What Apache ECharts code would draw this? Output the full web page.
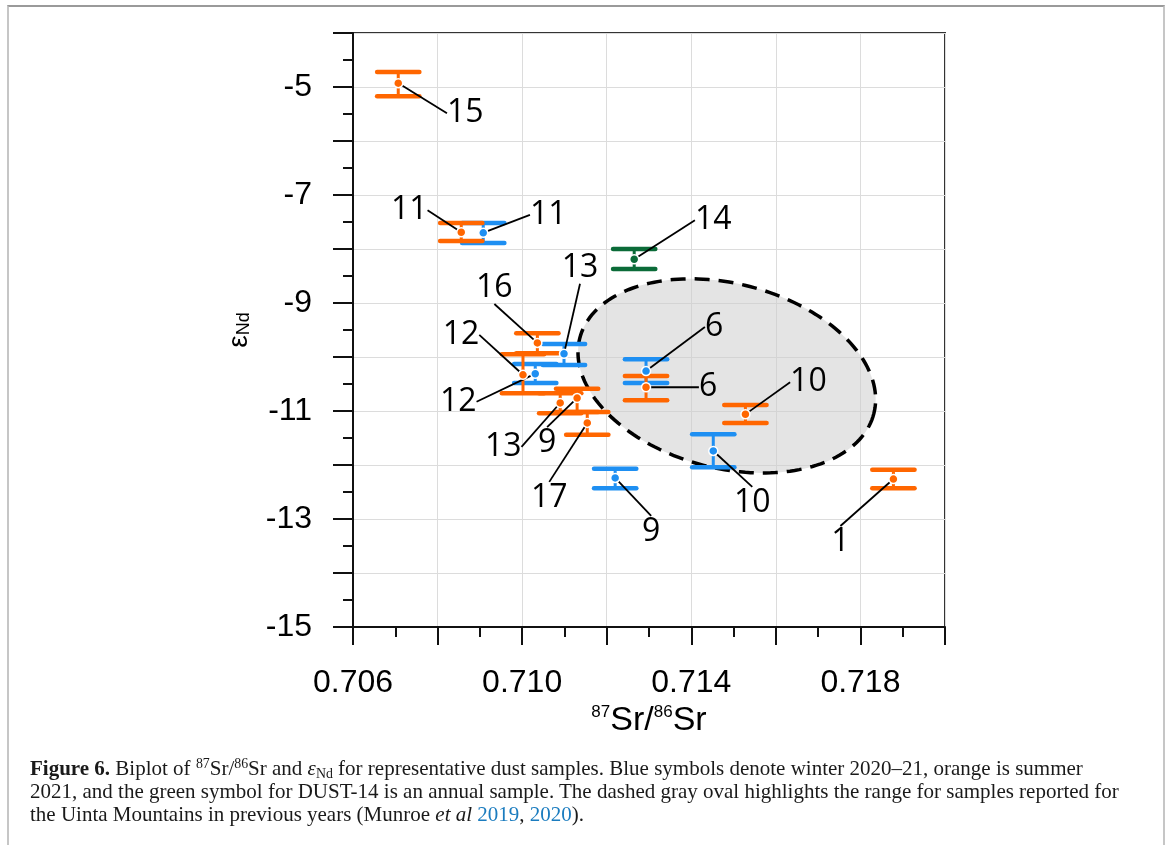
<!DOCTYPE html>
<html>
<head>
<meta charset="utf-8">
<script src="https://cdn.jsdelivr.net/npm/echarts@6/dist/echarts.min.js"></script>
<style>
  html, body { margin: 0; padding: 0; background: #fff; }
  #wrap { position: relative; width: 1167px; height: 845px; overflow: hidden; }
  #chart { position: absolute; left: 0; top: 0; width: 1167px; height: 845px; }
  #frame { position: absolute; left: 7px; top: 5px; width: 1154px; height: 900px;
    border-top: 2px solid #9a9a9a; border-left: 2px solid #c6c6c6; border-right: 2px solid #c6c6c6; pointer-events: none; }
  #cap { position: absolute; left: 30px; top: 757px; white-space: nowrap;
    font-family: 'Liberation Serif', 'DejaVu Serif', serif; font-size: 21px; line-height: 23px; color: #1a1a1a; }
  #cap sup, #cap sub { font-size: 0.66em; line-height: 0; }
  #cap sup { vertical-align: 0.5em; }
  #cap sub { vertical-align: -0.25em; }
  #cap .lnk { color: #1b7cbf; }
</style>
</head>
<body>
<div id="wrap">
  <div id="chart"></div>
  <div id="frame"></div>
  <div id="cap"><b>Figure 6.</b> Biplot of <sup>87</sup>Sr/<sup>86</sup>Sr and <i>ε</i><sub>Nd</sub> for representative dust samples. Blue symbols denote winter 2020–21, orange is summer<br>2021, and the green symbol for DUST-14 is an annual sample. The dashed gray oval highlights the range for samples reported for<br>the Uinta Mountains in previous years (Munroe <i>et al</i> <span class="lnk">2019</span>, <span class="lnk">2020</span>).</div>
</div>
<script>
// ---------------- data ----------------
// Winter 2020-21 (blue)
const winterLabels = ['11', '13', '12', '9', '6', '10'];
const winterSr     = [0.70908, 0.71099, 0.71031, 0.71220, 0.71293, 0.71452];
const winterEps    = [-7.70, -9.94, -10.31, -12.24, -10.26, -11.74];
const winterEpsLo  = [-7.89, -10.15, -10.48, -12.43, -10.48, -12.04];
const winterEpsHi  = [-7.52, -9.76, -10.13, -12.07, -10.04, -11.43];

// Summer 2021 (orange)
const summerLabels = ['15', '11', '16', '12', '13', '9', '17', '6', '10', '1'];
const summerSr     = [0.70707, 0.70856, 0.71036, 0.71002, 0.71090, 0.71130, 0.71154, 0.71293, 0.71528, 0.71878];
const summerEps    = [-4.93, -7.69, -9.74, -10.33, -10.85, -10.76, -11.22, -10.56, -11.06, -12.26];
const summerEpsLo  = [-5.17, -7.85, -9.93, -10.67, -11.04, -11.02, -11.44, -10.80, -11.22, -12.43];
const summerEpsHi  = [-4.72, -7.52, -9.56, -9.95, -10.67, -10.59, -11.02, -10.35, -10.89, -12.09];

// Annual (green)
const annualLabels = ['14'];
const annualSr     = [0.71265];
const annualEps    = [-8.19];
const annualEpsLo  = [-8.37];
const annualEpsHi  = [-8.00];

// Previous-years range (oval): center, semi-axes (x units, y units)
const ovalCenter = [0.71484, -10.35];
const ovalSemiAxes = [0.00359, 1.71];

// Axis tick labels
const xTickLabels = ['0.706', '0.710', '0.714', '0.718'];
const yTickLabels = ['-5', '-7', '-9', '-11', '-13', '-15'];

// ---------------- layout (label offsets in px) ----------------
const winterLabelOffsets = [[65, -18], [16, -86], [-77, 28], [36, 54], [68, -44], [39, 52]];
const summerLabelOffsets = [[67, 30], [-52, -22], [-43, -55], [-62, -40], [-57, 44], [-30, 45], [-38, 75], [62, 0], [63, -32], [-53, 63]];
const annualLabelOffsets = [[79, -39]];
const ovalTiltDeg = 14.4;
const capWidthX = 0.001;

const COLORS = { winter: '#1e8ff2', summer: '#ff6600', annual: '#0b6b38' };

function errorBarData(sr, lo, hi) { return sr.map((x, i) => [x, lo[i], hi[i]]); }
function pointData(sr, eps, labels) { return sr.map((x, i) => ({ value: [x, eps[i]], name: labels[i] })); }

function errorBarRender(color) {
  return function (params, api) {
    const x = api.value(0), lo = api.value(1), hi = api.value(2);
    const pHi = api.coord([x, hi]);
    const pLo = api.coord([x, lo]);
    const hw = api.size([capWidthX, 0])[0] / 2;
    return {
      type: 'group',
      children: [
        { type: 'line', shape: { x1: pHi[0], y1: pHi[1], x2: pLo[0], y2: pLo[1] }, style: { stroke: color, lineWidth: 3 } },
        { type: 'line', shape: { x1: pHi[0] - hw, y1: pHi[1], x2: pHi[0] + hw, y2: pHi[1] }, style: { stroke: color, lineWidth: 4.5, lineCap: 'round' } },
        { type: 'line', shape: { x1: pLo[0] - hw, y1: pLo[1], x2: pLo[0] + hw, y2: pLo[1] }, style: { stroke: color, lineWidth: 4.5, lineCap: 'round' } }
      ]
    };
  };
}

function ovalRender(params, api) {
  const c = api.coord([api.value(0), api.value(1)]);
  const ra = api.size([api.value(2), 0])[0];
  const rb = api.size([0, api.value(3)])[1];
  const th = ovalTiltDeg * Math.PI / 180;
  const pts = [];
  for (let k = 0; k < 180; k++) {
    const t = k / 180 * 2 * Math.PI;
    const ex = ra * Math.cos(t), ey = rb * Math.sin(t);
    pts.push([c[0] + ex * Math.cos(th) - ey * Math.sin(th), c[1] + ex * Math.sin(th) + ey * Math.cos(th)]);
  }
  return {
    type: 'polygon',
    shape: { points: pts },
    style: { fill: 'rgba(205,205,205,0.55)', stroke: '#000', lineWidth: 3.5, lineDash: [15, 9] }
  };
}

function labelLayoutFrom(offsets) {
  return function (p) { const o = offsets[p.dataIndex]; return { dx: o[0], dy: o[1] }; };
}

function pointSeries(name, sr, eps, labels, offsets, color, z) {
  return {
    name: name, type: 'scatter', z: z,
    data: pointData(sr, eps, labels),
    symbol: 'circle', symbolSize: 9,
    itemStyle: { color: color, borderColor: '#fff', borderWidth: 1.5, opacity: 1 },
    label: { show: true, position: 'inside', formatter: '{b}', color: '#000',
      fontFamily: 'Open Sans', fontSize: 32, lineHeight: 26 },
    labelLayout: labelLayoutFrom(offsets),
    labelLine: { show: true, lineStyle: { color: '#000', width: 1.8 } },
    emphasis: { disabled: true }
  };
}

function barSeries(name, sr, lo, hi, color, z) {
  return {
    name: name, type: 'custom', z: z,
    renderItem: errorBarRender(color),
    data: errorBarData(sr, lo, hi),
    encode: { x: 0, y: [1, 2] },
    silent: true
  };
}

const chart = echarts.init(document.getElementById('chart'), null, { renderer: 'canvas' });
const axisFont = 'Liberation Sans';
chart.setOption({
  animation: false,
  backgroundColor: '#fff',
  grid: { left: 353, right: 222, top: 33, bottom: 218, show: true, borderColor: '#333', borderWidth: 2, backgroundColor: 'transparent' },
  xAxis: {
    type: 'value', min: 0.706, max: 0.720, interval: 0.002,
    name: '{s|87}{b|Sr/}{s|86}{b|Sr}', nameLocation: 'middle', nameGap: 72,
    nameTextStyle: { rich: {
      s: { fontFamily: axisFont, fontSize: 17, color: '#000', verticalAlign: 'top', padding: [0, 0, 10, 0] },
      b: { fontFamily: axisFont, fontSize: 34, color: '#000' } } },
    axisLine: { show: true, onZero: false, lineStyle: { color: '#111', width: 2 } },
    axisTick: { show: true, length: 18, lineStyle: { color: '#111', width: 2 } },
    minorTick: { show: true, splitNumber: 2, length: 10, lineStyle: { color: '#111', width: 2 } },
    splitLine: { show: true, lineStyle: { color: '#dcdcdc', width: 1 } },
    axisLabel: { margin: 40, fontFamily: axisFont, fontSize: 32, color: '#000',
      formatter: v => { const s = v.toFixed(3); return xTickLabels.indexOf(s) >= 0 ? s : ''; } }
  },
  yAxis: {
    type: 'value', min: -15, max: -4, interval: 1,
    name: '{e|ε}{n|Nd}', nameLocation: 'middle', nameRotate: 90, nameGap: 100,
    nameTextStyle: { rich: {
      e: { fontFamily: axisFont, fontSize: 28, color: '#000' },
      n: { fontFamily: axisFont, fontSize: 18, color: '#000', verticalAlign: 'bottom', padding: [8, 0, 0, 0] } } },
    axisLine: { show: true, onZero: false, lineStyle: { color: '#111', width: 2 } },
    axisTick: { show: true, length: 20, lineStyle: { color: '#111', width: 2 } },
    minorTick: { show: true, splitNumber: 2, length: 10, lineStyle: { color: '#111', width: 2 } },
    splitLine: { show: true, lineStyle: { color: '#dcdcdc', width: 1 } },
    axisLabel: { margin: 41, fontFamily: axisFont, fontSize: 32, color: '#000',
      formatter: v => { const s = String(Math.round(v)); return yTickLabels.indexOf(s) >= 0 ? s : ''; } }
  },
  series: [
    { name: 'oval', type: 'custom', z: 1, silent: true, renderItem: ovalRender,
      data: [[ovalCenter[0], ovalCenter[1], ovalSemiAxes[0], ovalSemiAxes[1]]], encode: { x: 0, y: 1 } },
    barSeries('winter bars', winterSr, winterEpsLo, winterEpsHi, COLORS.winter, 2),
    barSeries('summer bars', summerSr, summerEpsLo, summerEpsHi, COLORS.summer, 3),
    barSeries('annual bars', annualSr, annualEpsLo, annualEpsHi, COLORS.annual, 3),
    pointSeries('Winter 2020–21', winterSr, winterEps, winterLabels, winterLabelOffsets, COLORS.winter, 4),
    pointSeries('Summer 2021', summerSr, summerEps, summerLabels, summerLabelOffsets, COLORS.summer, 5),
    pointSeries('Annual', annualSr, annualEps, annualLabels, annualLabelOffsets, COLORS.annual, 5)
  ]
});
</script>
</body>
</html>
